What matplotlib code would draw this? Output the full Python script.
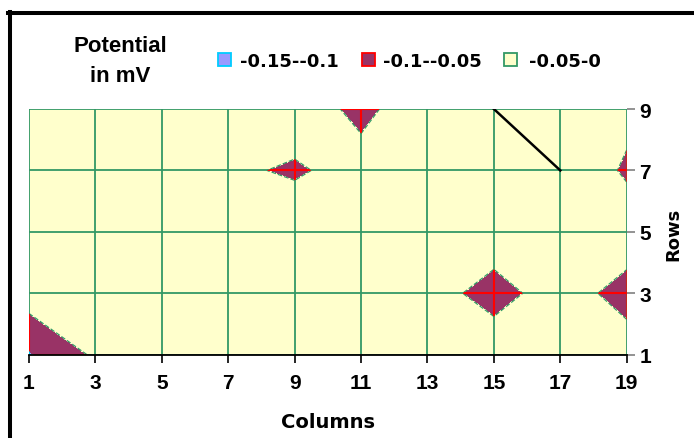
import numpy as np
import matplotlib
matplotlib.use("Agg")
import matplotlib.pyplot as plt
from matplotlib.patches import Rectangle
from matplotlib.lines import Line2D

# grid of the surface chart (odd columns / rows)
columns = [1, 3, 5, 7, 9, 11, 13, 15, 17, 19]
rows = [1, 3, 5, 7, 9]

# potential in mV, one list per row (row 1 first)
row_1 = [-0.105, -0.042, -0.02, -0.02, -0.02, -0.02, -0.02, -0.017, -0.02, -0.023]
row_3 = [-0.023, -0.02, -0.02, -0.02, -0.02, -0.02, -0.0274, -0.07, -0.024, -0.07]
row_5 = [-0.02, -0.02, -0.02, -0.02, -0.024, -0.02, -0.02, -0.0187, -0.02, -0.018]
row_7 = [-0.02, -0.02, -0.02, -0.043, -0.055, -0.035, -0.02, -0.02, -0.004, -0.0575]
row_9 = [-0.02, -0.02, -0.02, -0.02, -0.028, -0.06, -0.024, -0.02, -0.02, -0.035]

levels = [-0.15, -0.1, -0.05, 0]
band_labels = ["-0.15--0.1", "-0.1--0.05", "-0.05-0"]
band_fill = ["#9999FF", "#993366", "#FFFFCC"]
band_edge = ["#00CCFF", "#FF0000", "#339966"]

Z = np.array([row_1, row_3, row_5, row_7, row_9])
X, Y = np.meshgrid(columns, rows)

W, H = 694, 439
fig = plt.figure(figsize=(W / 100, H / 100), dpi=100)
ax = fig.add_axes([29 / W, 1 - 355.7 / H, (626.7 - 29) / W, (355.7 - 110) / H])

cs = ax.contourf(X, Y, Z, levels=levels, colors=band_fill)
ax.contour(X, Y, Z, levels=[-0.05], colors="#339966", linewidths=0.9)

# wireframe: green over the yellow band, band colour inside the others
ax.vlines(columns, 1, 9, colors="#339966", lw=1.3, zorder=3)
ax.hlines(rows, 1, 19, colors="#339966", lw=1.3, zorder=3)
paths = cs.get_paths()
for i in range(2):
    if len(paths[i].vertices) == 0:
        continue
    vl = ax.vlines(columns, 1, 9, colors=band_edge[i], lw=1.5, zorder=4)
    hl = ax.hlines(rows, 1, 19, colors=band_edge[i], lw=1.5, zorder=4)
    vl.set_clip_path(paths[i], ax.transData)
    hl.set_clip_path(paths[i], ax.transData)

# odd black segment in the top right cell
ax.plot([15, 17], [9, 7], color="black", lw=1.8, zorder=5)

ax.set_xlim(1, 19)
ax.set_ylim(1, 9)
ax.set_xticks(columns)
ax.set_yticks(rows)
ax.yaxis.tick_right()
for s in ["top", "left", "right"]:
    ax.spines[s].set_visible(False)
ax.spines["bottom"].set_color("black")
ax.spines["bottom"].set_linewidth(1.3)
ax.spines["bottom"].set_zorder(6)
ax.tick_params(axis="x", length=6, width=1.2, color="black", pad=7)
ax.tick_params(axis="y", length=6, width=1.2, color="#808080", pad=3)
for lab in ax.get_xticklabels() + ax.get_yticklabels():
    lab.set_fontfamily("Liberation Sans")
    lab.set_fontweight("bold")
    lab.set_fontsize(15)

def px(x, y):
    return x / W, 1 - y / H

fig.text(*px(328, 428.5), "Columns", ha="center", va="baseline",
         fontsize=14, fontweight="bold", family="DejaVu Sans")
fig.text(*px(673, 234), "Rows", ha="center", va="center", rotation=90,
         fontsize=13, fontweight="bold", family="DejaVu Sans")

fig.text(*px(120, 52), "Potential", ha="center", va="baseline",
         fontsize=16, fontweight="bold", family="Liberation Sans")
fig.text(*px(120, 82), "in mV", ha="center", va="baseline",
         fontsize=16, fontweight="bold", family="Liberation Sans")

# legend
box_x = [218.3, 361.7, 504.4]
text_x = [240, 383, 529]
for i in range(3):
    fig.add_artist(Rectangle(px(box_x[i], 67.3), 13 / W, 13 / H,
                             transform=fig.transFigure, facecolor=band_fill[i],
                             edgecolor=band_edge[i], lw=1.3))
    fig.text(*px(text_x[i], 67.3), band_labels[i], ha="left", va="baseline",
             fontsize=13, fontweight="bold", family="DejaVu Sans")

# outer frame (only left and top edges visible)
fig.add_artist(Line2D([10.3 / W, 10.3 / W], [0, 1 - 12.5 / H],
                      transform=fig.transFigure, color="black", lw=2.9))
fig.add_artist(Line2D([8.3 / W, 1], [1 - 14.3 / H, 1 - 14.3 / H],
                      transform=fig.transFigure, color="black", lw=2.9))

fig.savefig("out.png", dpi=100)
